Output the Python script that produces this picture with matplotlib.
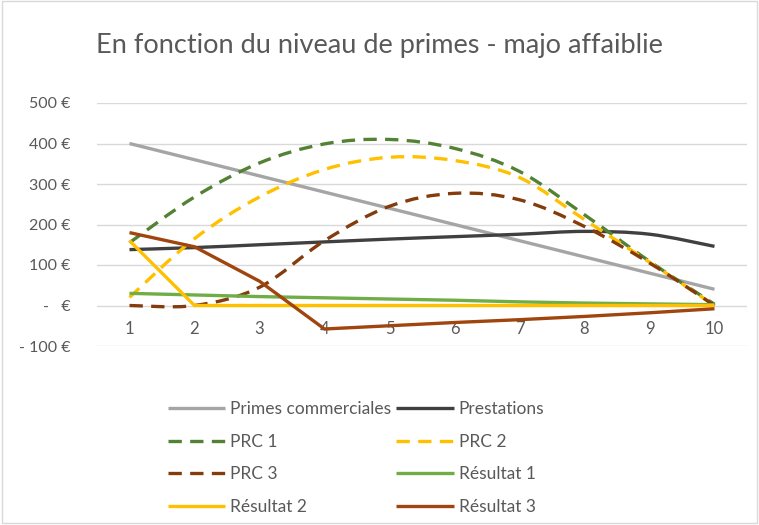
import numpy as np
import matplotlib
matplotlib.use("Agg")
import matplotlib.pyplot as plt
from matplotlib.path import Path
from matplotlib.patches import PathPatch, Rectangle
from matplotlib.lines import Line2D

plt.rcParams['font.family'] = ['Lato', 'DejaVu Sans']

# data
niveaux = [1, 2, 3, 4, 5, 6, 7, 8, 9, 10]
primes = [400, 360, 320, 280, 240, 200, 160, 120, 80, 40]
prestations = [138, 143, 150, 157, 164, 170, 176, 183, 176, 146]
prc1 = [155, 268, 352, 399, 410, 388, 331, 224, 109, 3]
prc2 = [20, 165, 268, 336, 366, 358, 316, 212, 107, 0]
prc3 = [0, 0, 45, 160, 245, 277, 261, 195, 105, 0]
resultat1 = [30, 26, 22, 19, 16, 13, 9, 6, 4, 2]
resultat2 = [160, 0, 0, 0, 0, 0, 0, 0, 0, 0]
resultat3 = [180, 145, 60, -58, -50, -42, -35, -27, -18, -8]

yticks = [-100, 0, 100, 200, 300, 400, 500]
ytick_labels = ['- 100 €', '-   €', '100 €', '200 €', '300 €', '400 €', '500 €']

grey_txt = '#595959'


def smooth_path(x, y):
    # cubic bezier through the points, like Excel's "smoothed line"
    pts = np.column_stack([x, y]).astype(float)
    verts = [pts[0]]
    codes = [Path.MOVETO]
    n = len(pts)
    for i in range(n - 1):
        p0 = pts[i - 1] if i > 0 else pts[i]
        p1 = pts[i]
        p2 = pts[i + 1]
        p3 = pts[i + 2] if i + 2 < n else pts[i + 1]
        c1 = p1 + (p2 - p0) / 6.0
        c2 = p2 - (p3 - p1) / 6.0
        verts += [c1, c2, p2]
        codes += [Path.CURVE4] * 3
    return Path(verts, codes)


fig = plt.figure(figsize=(7.59, 5.25), dpi=100)
ax = fig.add_axes([97 / 759, 1 - 346 / 525, 650 / 759, 243 / 525])

series = [
    ('Primes commerciales', primes, '#A5A5A5', '-', False),
    ('Prestations', prestations, '#404040', '-', True),
    ('PRC 1', prc1, '#548235', 'dash', True),
    ('PRC 2', prc2, '#FFC000', 'dash', True),
    ('PRC 3', prc3, '#843C0C', 'dash', True),
    ('Résultat 1', resultat1, '#70AD47', '-', False),
    ('Résultat 2', resultat2, '#FFC000', '-', False),
    ('Résultat 3', resultat3, '#A0450E', '-', False),
]

handles = []
for label, vals, col, ls, smooth in series:
    lstyle = (0, (4, 2.5)) if ls == 'dash' else '-'
    lw = 2.4
    if smooth:
        patch = PathPatch(smooth_path(niveaux, vals), fill=False, edgecolor=col,
                          lw=lw, linestyle=lstyle, capstyle='butt', zorder=3)
        ax.add_patch(patch)
    else:
        ax.plot(niveaux, vals, color=col, lw=lw, linestyle=lstyle, zorder=3,
                solid_capstyle='butt')
    handles.append(Line2D([], [], color=col, lw=lw, linestyle=lstyle,
                          solid_capstyle='butt', dash_capstyle='butt'))

ax.set_xlim(0.5, 10.5)
ax.set_ylim(-100, 500)
ax.set_yticks(yticks)
ax.set_yticklabels(ytick_labels)
ax.grid(axis='y', color='#D9D9D9', lw=1)
ax.set_axisbelow(True)
for s in ['top', 'right', 'left']:
    ax.spines[s].set_visible(False)
ax.spines['bottom'].set_position(('data', 0))
ax.spines['bottom'].set_visible(False)
ax.set_xticks(niveaux)
ax.tick_params(axis='x', length=0, pad=11, labelsize=12, labelcolor=grey_txt)
ax.tick_params(axis='y', length=0, pad=19, labelsize=11.5, labelcolor=grey_txt)

fig.text(0.5, 1 - 45 / 525, 'En fonction du niveau de primes - majo affaiblie',
         ha='center', va='center', fontsize=19.5, color=grey_txt)

# legend is filled row by row in the reference, matplotlib fills by column
order = [0, 2, 4, 6, 1, 3, 5, 7]
leg = fig.legend([handles[i] for i in order], [series[i][0] for i in order], ncol=2,
                 loc='center', bbox_to_anchor=(356 / 759, 1 - 458 / 525),
                 frameon=False, fontsize=12.5, handlelength=3.3, handletextpad=0.3,
                 columnspacing=0.3, labelspacing=0.95, borderpad=0)
for t in leg.get_texts():
    t.set_color(grey_txt)

fig.patches.append(Rectangle((0.002, 0.004), 0.996, 0.994, transform=fig.transFigure,
                             fill=False, edgecolor='#D9D9D9', lw=1))

fig.savefig('out.png', dpi=100)
